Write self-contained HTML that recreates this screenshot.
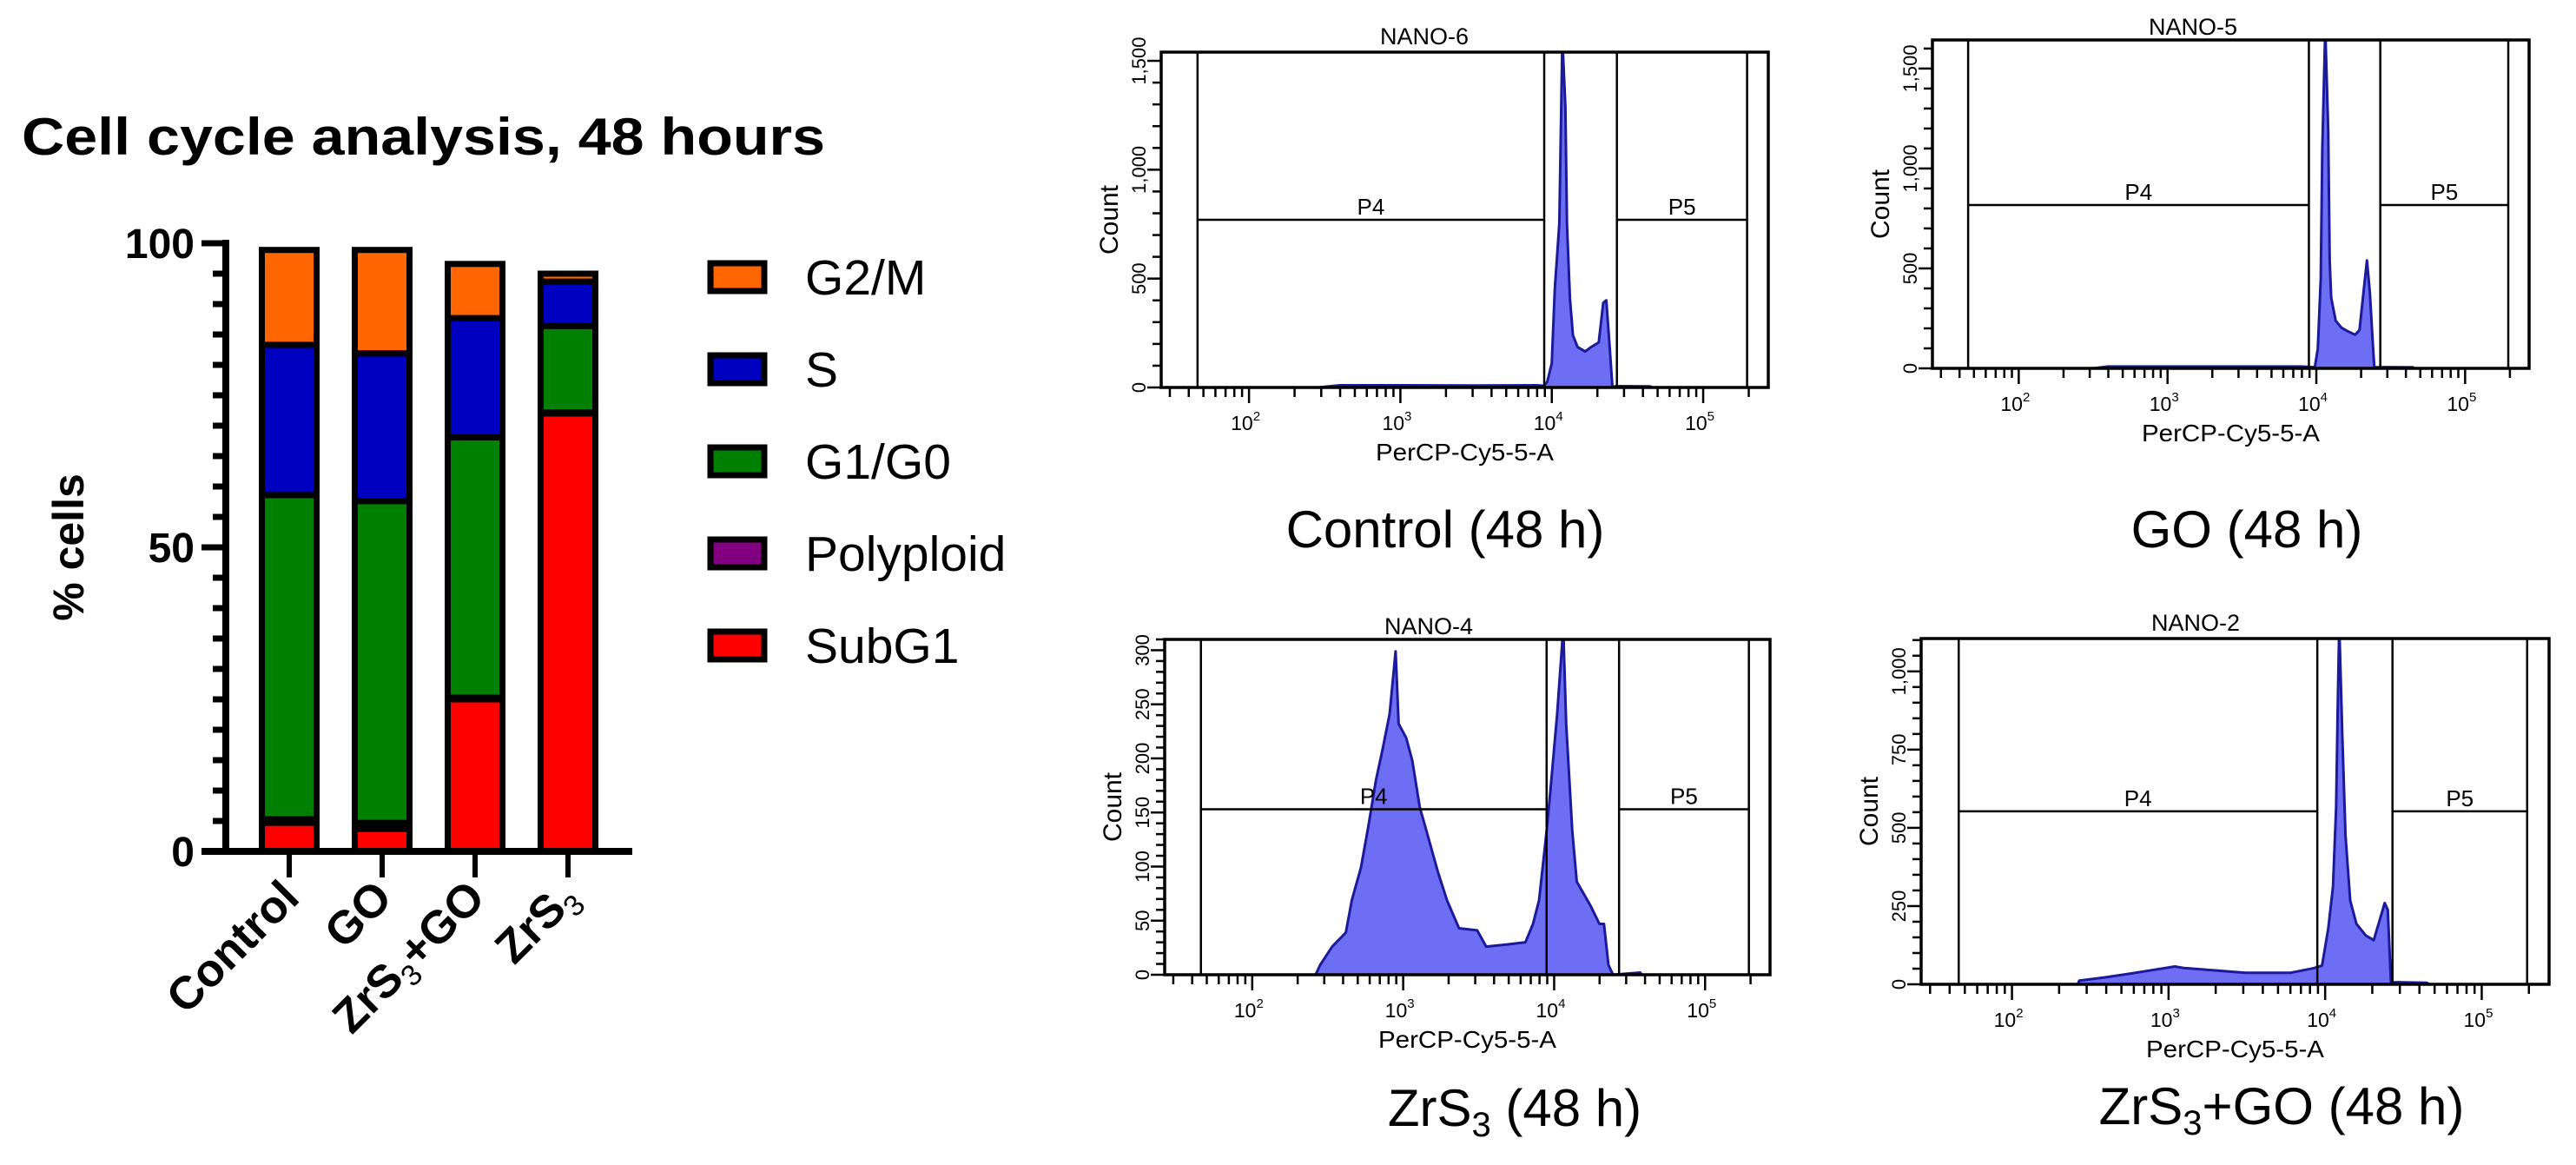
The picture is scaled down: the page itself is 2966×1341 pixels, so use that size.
<!DOCTYPE html>
<html><head><meta charset="utf-8"><title>Cell cycle analysis</title>
<style>
html,body{margin:0;padding:0;background:#fff;}
svg{display:block;}
text{font-family:"Liberation Sans",sans-serif;fill:#000;}
</style></head>
<body>
<svg id="fig" width="2966" height="1341" viewBox="0 0 2966 1341" xmlns="http://www.w3.org/2000/svg">
<defs>
<clipPath id="clipA"><rect x="1337" y="60" width="699" height="386"/></clipPath>
<clipPath id="clipB"><rect x="2225" y="46" width="687" height="378"/></clipPath>
<clipPath id="clipC"><rect x="1341" y="736" width="697" height="386"/></clipPath>
<clipPath id="clipD"><rect x="2212" y="735" width="723" height="398"/></clipPath>
</defs>
<text x="25" y="178" font-size="60" font-weight="bold" textLength="925" lengthAdjust="spacingAndGlyphs">Cell cycle analysis,  48 hours</text>
<g id="bars"></g>
<g id="hists"></g>
</svg>
<script>
// ---------- Bar chart data ----------
const barCategories = ["Control", "GO", "ZrS3+GO", "ZrS3"];
const subG1 = [4.7, 3.7, 25.0, 72.0];
const polyploid = [0.6, 1.0, 0.3, 0.2];
const g1g0 = [53.3, 52.9, 42.8, 14.2];
const sPhase = [24.7, 24.3, 19.6, 7.3];
const g2m = [15.6, 17.0, 8.9, 1.3];
const barTicks = [0, 50, 100];
const legendLabels = ["G2/M", "S", "G1/G0", "Polyploid", "SubG1"];

// ---------- Histogram data (log10 intensity, count) ----------
const ctrlLog = [2.46,2.6,3.0,3.5,3.9,3.95,3.97,4.0,4.02,4.05,4.07,4.09,4.10,4.12,4.14,4.17,4.22,4.26,4.31,4.34,4.36,4.38,4.40,4.45,4.65,4.66];
const ctrlCount = [0,10,10,9,10,8,26,111,453,752,1600,1286,752,410,239,186,165,186,207,389,400,207,4,6,5,0];
const goLog = [2.5,2.6,3.0,3.5,3.9,3.99,4.01,4.03,4.04,4.06,4.08,4.09,4.10,4.13,4.17,4.21,4.26,4.29,4.32,4.34,4.36,4.38,4.39,4.45,4.65,4.66];
const goCount = [0,9,9,9,9,5,98,447,1099,1700,1192,540,354,238,203,186,168,191,400,540,377,121,5,6,5,0];
const zrLog = [2.42,2.45,2.53,2.62,2.66,2.72,2.77,2.82,2.86,2.91,2.95,2.97,3.02,3.06,3.11,3.17,3.23,3.29,3.37,3.49,3.55,3.69,3.81,3.86,3.90,3.95,3.98,4.02,4.06,4.08,4.12,4.15,4.24,4.30,4.33,4.36,4.39,4.57,4.58];
const zrCount = [0,9,26,39,69,99,138,180,206,241,299,232,219,198,155,125,95,69,43,41,26,28,30,47,69,133,178,241,320,232,133,86,64,47,47,9,0,2,0];
const zgLog = [2.42,2.43,2.59,2.74,2.89,3.04,3.10,3.28,3.49,3.78,3.93,3.98,4.02,4.05,4.07,4.08,4.09,4.11,4.13,4.16,4.20,4.26,4.31,4.35,4.38,4.40,4.42,4.5,4.65,4.66];
const zgCount = [0,12,22,33,45,57,52,45,37,37,52,60,179,312,565,878,1150,789,476,268,193,156,141,208,260,238,7,6,5,0];

const cMajA = [0,500,1000,1500], cLabA = ["0","500","1,000","1,500"];
const cMajC = [0,50,100,150,200,250,300], cLabC = ["0","50","100","150","200","250","300"];
const cMajD = [0,250,500,750,1000], cLabD = ["0","250","500","750","1,000"];
const decades = [2,3,4,5];

const NS = "http://www.w3.org/2000/svg";
function mk(parent, tag, attrs, name, inter) {
  const el = document.createElementNS(NS, tag);
  for (const k in attrs) el.setAttribute(k, attrs[k]);
  
  
  parent.appendChild(el);
  return el;
}

// ---------- Bar chart ----------
const bars = document.getElementById('bars');
const yZero = 980, pxPerUnit = 7.0;
function yB(v) { return yZero - v * pxPerUnit; }
const bx0 = 333, bStep = 107, bW = 63;
function xB(i) { return bx0 + i * bStep; }

const series = [
  {vals: subG1, color: "#ff0000", name: "subg1"},
  {vals: polyploid, color: "#800080", name: "polyploid"},
  {vals: g1g0, color: "#008000", name: "g1g0"},
  {vals: sPhase, color: "#0000c0", name: "s-phase"},
  {vals: g2m, color: "#ff6600", name: "g2m"}
];
barCategories.forEach(function (cat, i) {
  let base = 0;
  series.forEach(function (s) {
    const v = s.vals[i];
    mk(bars, 'rect', {x: xB(i) - bW / 2, y: yB(base + v), width: bW, height: Math.max(v * pxPerUnit, 0.1), fill: s.color, stroke: "#000", "stroke-width": 7}, 'bar-' + s.name + '-' + i, 'true');
    base += v;
  });
});
mk(bars, 'line', {x1: 260, y1: yB(100) - 4, x2: 260, y2: yZero + 4, stroke: "#000", "stroke-width": 8}, 'y-axis', 'false');
for (let v = 0; v <= 100; v += 5) {
  const major = barTicks.indexOf(v) >= 0;
  mk(bars, 'line', {x1: major ? 232 : 245, y1: yB(v), x2: 260, y2: yB(v), stroke: "#000", "stroke-width": 7}, 'y-tick', 'false');
}
barTicks.forEach(function (v) {
  const t = mk(bars, 'text', {x: 224, y: yB(v) + 17, "text-anchor": "end", "font-size": 48, "font-weight": "bold"}, 'y-tick-label', 'false');
  t.textContent = String(v);
});
const yt = mk(bars, 'text', {x: 96, y: 630, "text-anchor": "middle", "font-size": 50, "font-weight": "bold", transform: "rotate(-90 96 630)"}, 'y-axis-title', 'false');
yt.textContent = "% cells";
mk(bars, 'line', {x1: 232, y1: yZero, x2: 728, y2: yZero, stroke: "#000", "stroke-width": 8}, 'x-axis', 'false');
barCategories.forEach(function (cat, i) {
  mk(bars, 'line', {x1: xB(i), y1: yZero, x2: xB(i), y2: yZero + 30, stroke: "#000", "stroke-width": 6}, 'x-tick', 'false');
  const ax = xB(i) + 14, ay = 1036;
  const t = mk(bars, 'text', {x: ax, y: ay, "text-anchor": "end", "font-size": 53, "font-weight": "bold", transform: "rotate(-45 " + ax + " " + ay + ")"}, 'x-tick-label', 'false');
  if (cat.indexOf("ZrS3") === 0) {
    const a = document.createElementNS(NS, 'tspan'); a.textContent = "ZrS"; t.appendChild(a);
    const b = document.createElementNS(NS, 'tspan'); b.textContent = "3"; b.setAttribute('font-size', '34'); b.setAttribute('font-weight', 'normal'); b.setAttribute('dy', '11'); t.appendChild(b);
    if (cat.length > 4) { const c = document.createElementNS(NS, 'tspan'); c.textContent = "+GO"; c.setAttribute('dy', '-11'); t.appendChild(c); }
  } else { t.textContent = cat; }
});
const legColors = ["#ff6600", "#0000c0", "#008000", "#800080", "#ff0000"];
const legY = [319, 425, 531, 637, 743];
legendLabels.forEach(function (lab, i) {
  mk(bars, 'rect', {x: 818, y: legY[i] - 16, width: 62, height: 32, fill: legColors[i], stroke: "#000", "stroke-width": 7}, 'legend-swatch', 'false');
  const t = mk(bars, 'text', {x: 927, y: legY[i] + 20, "font-size": 57}, 'legend-entry', 'false');
  t.textContent = lab;
});

// ---------- Histograms ----------
const hists = document.getElementById('hists');
const LMIN = 1.42, LMAX = 5.43;
const gatesLog = [1.66, 3.95, 4.43, 5.29];
const panels = [
  {id: "A", left: 1337, right: 2036, top: 60, zero: 446, ymax: 1540, maj: cMajA, lab: cLabA, minor: 100, gate: 770, tube: "NANO-6", tx: 1640, ty: 51, xs: ctrlLog, ys: ctrlCount, cap: "Control (48 h)", cx: 1664, cy: 630, clip: "clipA"},
  {id: "B", left: 2225, right: 2912, top: 46, zero: 424, ymax: 1643, maj: cMajA, lab: cLabA, minor: 100, gate: 817, tube: "NANO-5", tx: 2525, ty: 40, xs: goLog, ys: goCount, cap: "GO (48 h)", cx: 2587, cy: 630, clip: "clipB"},
  {id: "C", left: 1341, right: 2038, top: 736, zero: 1122, ymax: 310, maj: cMajC, lab: cLabC, minor: 10, gate: 153, tube: "NANO-4", tx: 1645, ty: 730, xs: zrLog, ys: zrCount, cap: "ZrS3 (48 h)", cx: 1744, cy: 1296, clip: "clipC"},
  {id: "D", left: 2212, right: 2935, top: 735, zero: 1133, ymax: 1105, maj: cMajD, lab: cLabD, minor: 50, gate: 553, tube: "NANO-2", tx: 2528, ty: 726, xs: zgLog, ys: zgCount, cap: "ZrS3+GO (48 h)", cx: 2627, cy: 1294, clip: "clipD"}
];
panels.forEach(function (p) {
  const g = mk(hists, 'g', {}, 'histogram-panel-' + p.id, 'false');
  const X = function (l) { return p.left + (l - LMIN) / (LMAX - LMIN) * (p.right - p.left); };
  const Y = function (c) { return p.zero - c / p.ymax * (p.zero - p.top); };
  let pts = [];
  for (let i = 0; i < p.xs.length; i++) pts.push(X(p.xs[i]).toFixed(1) + "," + Y(p.ys[i]).toFixed(1));
  mk(g, 'polygon', {points: pts.join(" "), fill: "#6e6ef4", stroke: "#1a1a9a", "stroke-width": 3, "stroke-linejoin": "round", "clip-path": "url(#" + p.clip + ")"}, 'histogram-area', 'false');
  mk(g, 'rect', {x: p.left, y: p.top, width: p.right - p.left, height: p.zero - p.top, fill: "none", stroke: "#000", "stroke-width": 3.5}, 'plot-frame', 'false');
  gatesLog.forEach(function (l) {
    mk(g, 'line', {x1: X(l), y1: p.top, x2: X(l), y2: p.zero, stroke: "#000", "stroke-width": 2.5}, 'gate-boundary', 'true');
  });
  const gy = Y(p.gate);
  mk(g, 'line', {x1: X(gatesLog[0]), y1: gy, x2: X(gatesLog[1]), y2: gy, stroke: "#000", "stroke-width": 2.5}, 'gate-p4', 'true');
  mk(g, 'line', {x1: X(gatesLog[2]), y1: gy, x2: X(gatesLog[3]), y2: gy, stroke: "#000", "stroke-width": 2.5}, 'gate-p5', 'true');
  const p4 = mk(g, 'text', {x: (X(gatesLog[0]) + X(gatesLog[1])) / 2, y: gy - 6, "text-anchor": "middle", "font-size": 26}, 'gate-label-p4', 'false');
  p4.textContent = "P4";
  const p5 = mk(g, 'text', {x: (X(gatesLog[2]) + X(gatesLog[3])) / 2, y: gy - 6, "text-anchor": "middle", "font-size": 26}, 'gate-label-p5', 'false');
  p5.textContent = "P5";
  for (let c = 0; c <= p.ymax; c += p.minor) {
    const major = p.maj.indexOf(c) >= 0;
    mk(g, 'line', {x1: p.left - (major ? 16 : 10), y1: Y(c), x2: p.left, y2: Y(c), stroke: "#000", "stroke-width": 2.5}, 'y-tick', 'false');
  }
  p.maj.forEach(function (c, i) {
    const tx = p.left - 18, ty = Y(c);
    const t = mk(g, 'text', {x: tx, y: ty, "text-anchor": "middle", "font-size": 22, transform: "rotate(-90 " + tx + " " + ty + ")"}, 'y-tick-label', 'false');
    t.textContent = p.lab[i];
  });
  const cxp = p.left - 50, cyp = (p.top + p.zero) / 2;
  const ct = mk(g, 'text', {x: cxp, y: cyp, "text-anchor": "middle", "font-size": 30, transform: "rotate(-90 " + cxp + " " + cyp + ")"}, 'y-axis-title', 'false');
  ct.textContent = "Count";
  for (let d = 1; d <= 5; d++) {
    for (let m = 1; m <= 9; m++) {
      const l = d + Math.log10(m);
      if (l < LMIN || l > LMAX) continue;
      mk(g, 'line', {x1: X(l), y1: p.zero, x2: X(l), y2: p.zero + (m === 1 ? 18 : 11), stroke: "#000", "stroke-width": 2.5}, 'x-tick', 'false');
    }
  }
  decades.forEach(function (d) {
    const t = mk(g, 'text', {x: X(d) - 4, y: p.zero + 49, "text-anchor": "middle", "font-size": 23}, 'x-tick-label', 'false');
    const a = document.createElementNS(NS, 'tspan'); a.textContent = "10"; t.appendChild(a);
    const b = document.createElementNS(NS, 'tspan'); b.textContent = String(d); b.setAttribute('font-size', '15'); b.setAttribute('dy', '-11'); t.appendChild(b);
  });
  const xl = mk(g, 'text', {x: (p.left + p.right) / 2, y: p.zero + 84, "text-anchor": "middle", "font-size": 28, textLength: 205, lengthAdjust: "spacingAndGlyphs"}, 'x-axis-title', 'false');
  xl.textContent = "PerCP-Cy5-5-A";
  const tt = mk(g, 'text', {x: p.tx, y: p.ty, "text-anchor": "middle", "font-size": 27}, 'panel-title', 'false');
  tt.textContent = p.tube;
  const cap = mk(g, 'text', {x: p.cx, y: p.cy, "text-anchor": "middle", "font-size": 60}, 'panel-caption', 'false');
  if (p.cap.indexOf("ZrS3") === 0) {
    const a = document.createElementNS(NS, 'tspan'); a.textContent = "ZrS"; cap.appendChild(a);
    const b = document.createElementNS(NS, 'tspan'); b.textContent = "3"; b.setAttribute('font-size', '40'); b.setAttribute('dy', '12'); cap.appendChild(b);
    const c = document.createElementNS(NS, 'tspan'); c.textContent = p.cap.slice(4); c.setAttribute('dy', '-12'); cap.appendChild(c);
  } else { cap.textContent = p.cap; }
});
</script>
</body></html>
